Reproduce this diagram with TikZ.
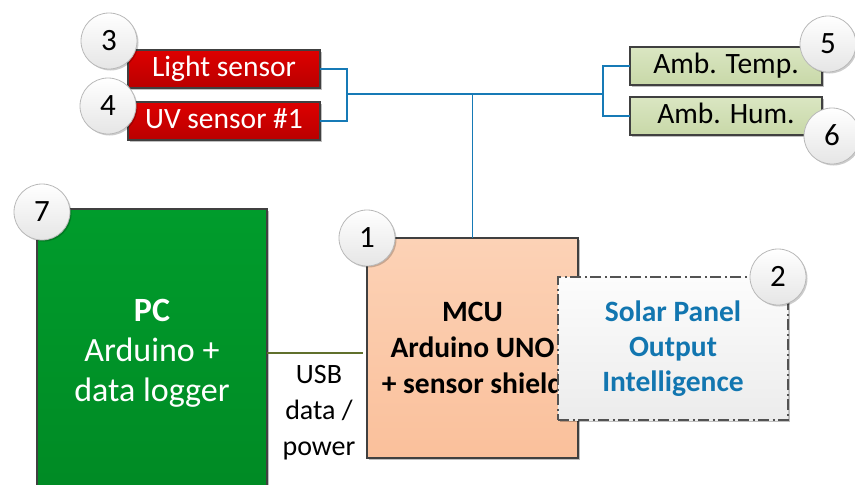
\documentclass[tikz,border=0pt]{standalone}
\usepackage{fontspec}
\setmainfont{Carlito}
\usetikzlibrary{shadows}
\definecolor{boxborder}{RGB}{64,64,64}
\definecolor{redT}{RGB}{222,0,0}
\definecolor{redB}{RGB}{185,0,0}
\definecolor{greenT}{RGB}{0,156,44}
\definecolor{greenB}{RGB}{0,138,36}
\definecolor{ambT}{RGB}{218,230,194}
\definecolor{ambB}{RGB}{200,216,168}
\definecolor{mcuT}{RGB}{252,210,182}
\definecolor{mcuB}{RGB}{250,192,155}
\definecolor{solarT}{RGB}{252,252,252}
\definecolor{solarB}{RGB}{236,236,236}
\definecolor{solarblue}{RGB}{18,118,176}
\definecolor{busblue}{RGB}{22,122,182}
\definecolor{usbolive}{RGB}{96,112,44}
\begin{document}
\begin{tikzpicture}[x=1pt,y=-1pt,
  box/.style={draw=boxborder, line width=1.3pt, inner sep=0pt, outer sep=0pt,
    anchor=north west,
    drop shadow={shadow xshift=2pt, shadow yshift=-2pt, opacity=0.25, fill=black}},
  sensorbox/.style={box, top color=redT, bottom color=redB, text=white,
    minimum width=192pt, minimum height=38pt, text height=19.5pt, text depth=5pt,
    font=\fontsize{29.5}{34}\selectfont},
  ambbox/.style={box, top color=ambT, bottom color=ambB, text=black,
    minimum width=192pt, minimum height=38pt, text height=19.5pt, text depth=5pt,
    font=\fontsize{29.5}{34}\selectfont},
  numcircle/.style={circle, draw=gray!55, line width=0.8pt, top color=white,
    bottom color=gray!20, minimum size=56pt, inner sep=0pt,
    text height=19pt, text depth=0pt, font=\fontsize{31}{34}\selectfont,
    drop shadow={shadow xshift=1.5pt, shadow yshift=-1.5pt, opacity=0.2, fill=black}},
  bus/.style={draw=busblue, line width=1.5pt},
]
\useasboundingbox (0,0) rectangle (855,485);
\clip (0,0) rectangle (855,485);

% sensor boxes
\node[sensorbox] (light) at (128,50) {Light sensor};
\node[sensorbox] (uv) at (128,102) {UV sensor \#1};
\node[ambbox] (temp) at (630,47) {Amb. Temp.};
\node[ambbox] (hum) at (630,97) {Amb. Hum.};

% main boxes
\node[box, top color=greenT, bottom color=greenB, text=white, align=center,
  minimum width=230pt, minimum height=288pt,
  font=\fontsize{34}{40}\selectfont] (pc) at (37,209)
  {{\bfseries PC}\\Arduino +\\data logger};
\node[box, top color=mcuT, bottom color=mcuB, text=black, align=center,
  minimum width=211pt, minimum height=220pt,
  font=\bfseries\fontsize{29.5}{36}\selectfont] (mcu) at (367,238)
  {MCU\\Arduino UNO\\+ sensor shield};
\node[box, draw=boxborder!90, line width=1.2pt,
  dash pattern=on 11pt off 3.5pt on 2pt off 3.5pt,
  top color=solarT, bottom color=solarB, text=solarblue, align=center,
  minimum width=230pt, minimum height=143pt,
  font=\bfseries\fontsize{29.5}{35}\selectfont] (solar) at (558,277)
  {Solar Panel\\Output\\Intelligence};

% number circles
\node[numcircle] (n3) at (109,41) {3};
\node[numcircle] (n4) at (108,106) {4};
\node[numcircle] (n5) at (828,44) {5};
\node[numcircle] (n6) at (832,136) {6};
\node[numcircle] (n7) at (42,212) {7};
\node[numcircle] (n1) at (367,238) {1};
\node[numcircle] (n2) at (778,277) {2};

% bus connectors
\coordinate (lb) at (347,94);
\coordinate (rb) at (603,94);
\coordinate (tj) at (mcu.north |- lb);
\draw[bus] (light.east) -| (lb);
\draw[bus] (uv.east) -| (lb);
\draw[bus] (temp.west) -| (rb);
\draw[bus] (hum.west) -| (rb);
\draw[bus] (lb) -- (rb);
\draw[bus] (tj) -- (mcu.north);

% USB link
\coordinate (usbend) at (363,353);
\draw[usbolive, line width=1.5pt] (pc.east) -- (usbend);
\node[align=center, inner sep=0pt, font=\fontsize{28}{36}\selectfont] (usblabel)
  at (319,413) {USB\\data /\\power};
\end{tikzpicture}
\end{document}
